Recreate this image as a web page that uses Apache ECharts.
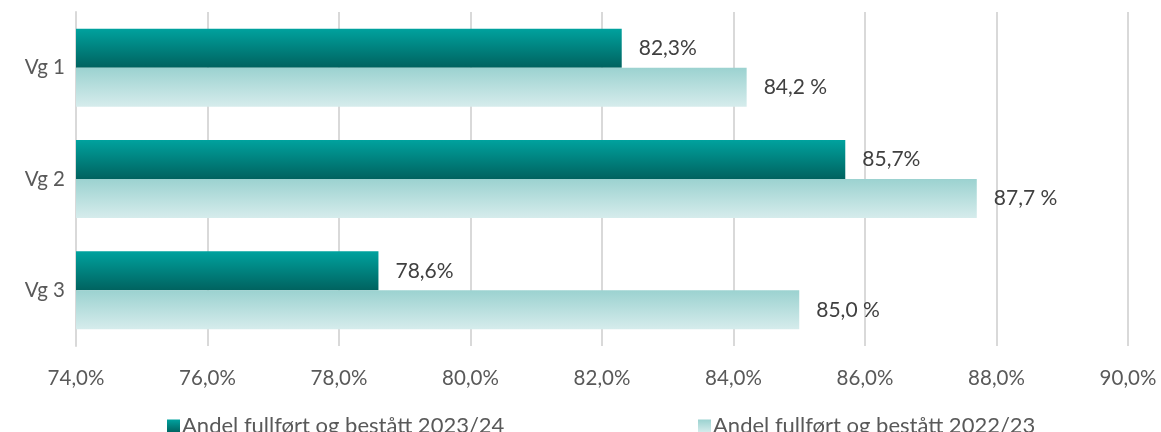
<!DOCTYPE html>
<html>
<head>
<meta charset="utf-8">
<script src="https://cdn.jsdelivr.net/npm/echarts@6/dist/echarts.min.js"></script>
<style>
  html, body { margin: 0; padding: 0; background: #fff; }
  #chart { width: 1161px; height: 432px; }
</style>
</head>
<body>
<div id="chart"></div>
<script>
// kategorier og verdier
const categories = ['Vg 1', 'Vg 2', 'Vg 3']
const names = ['Andel fullført og bestått 2023/24', 'Andel fullført og bestått 2022/23']
const andel2324 = [82.3, 85.7, 78.6]
const andel2223 = [84.2, 87.7, 85.0]

const font = 'Lato, "Open Sans", sans-serif'

function pct(v) {
    return v.toFixed(1).replace('.', ',') + '%'
}

const chart = echarts.init(document.getElementById('chart'))
const option = {
    animation: false,
    textStyle: { fontFamily: font },
    grid: { left: 76, right: 33, top: 12, bottom: 86 },
    legend: [
        {
            data: [names[0]],
            left: 162, top: 410,
            icon: 'rect',
            itemWidth: 13, itemHeight: 13, itemGap: 0,
            textStyle: { fontSize: 22, color: '#595959', fontFamily: font, padding: [0, 0, 0, -3] }
        },
        {
            data: [names[1]],
            left: 693, top: 410,
            icon: 'rect',
            itemWidth: 13, itemHeight: 13, itemGap: 0,
            textStyle: { fontSize: 22, color: '#595959', fontFamily: font, padding: [0, 0, 0, -3] }
        }
    ],
    xAxis: {
        type: 'value',
        min: 74, max: 90, interval: 2,
        axisLine: { show: false },
        axisTick: { show: false },
        splitLine: { lineStyle: { color: '#d9d9d9', width: 2 } },
        axisLabel: {
            formatter: pct,
            fontSize: 20.5, color: '#595959', margin: 22, fontFamily: font
        }
    },
    yAxis: {
        type: 'category',
        data: categories,
        inverse: true,
        axisTick: { show: false },
        axisLine: { lineStyle: { color: '#d9d9d9', width: 2 } },
        axisLabel: { fontSize: 20.5, color: '#595959', margin: 11, fontFamily: font }
    },
    series: [
        {
            name: names[0],
            type: 'bar',
            data: andel2324,
            barWidth: 39,
            barGap: '0%',
            itemStyle: {
                color: new echarts.graphic.LinearGradient(0, 0, 0, 1, [
                    { offset: 0, color: '#00a29e' },
                    { offset: 1, color: '#00625f' }
                ])
            },
            label: {
                show: true, position: 'right', distance: 17,
                formatter: p => pct(p.value),
                fontSize: 21, color: '#404040', fontFamily: font
            }
        },
        {
            name: names[1],
            type: 'bar',
            data: andel2223,
            barWidth: 39,
            itemStyle: {
                color: new echarts.graphic.LinearGradient(0, 0, 0, 1, [
                    { offset: 0, color: '#9bd2d0' },
                    { offset: 1, color: '#d6ecec' }
                ])
            },
            label: {
                show: true, position: 'right', distance: 17,
                formatter: p => pct(p.value).replace('%', ' %'),
                fontSize: 21, color: '#404040', fontFamily: font
            }
        }
    ]
}
chart.setOption(option)
</script>
</body>
</html>
